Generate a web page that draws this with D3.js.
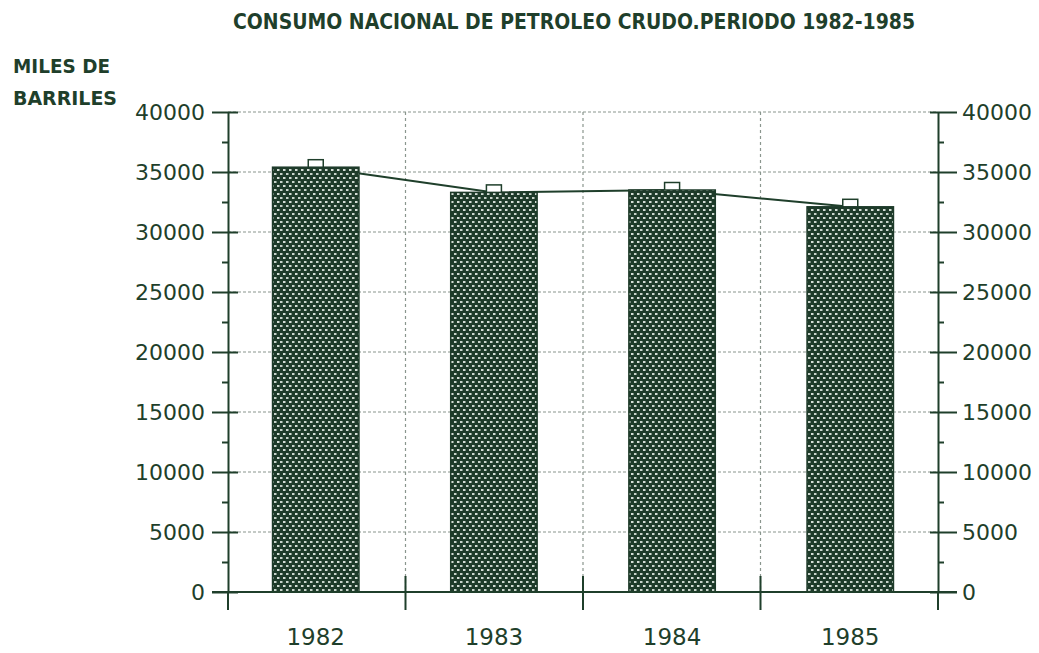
<!DOCTYPE html>
<html><head><meta charset="utf-8">
<script src="https://cdn.jsdelivr.net/npm/d3@7"></script>
<style>body{margin:0;background:#fff}</style>
</head><body>
<svg id="c" width="1039" height="653"></svg>
<script>
const categories = ["1982","1983","1984","1985"];
const barValues = [35400, 33300, 33500, 32100];
const lineValues = [35400, 33300, 33500, 32100];
const yTicks = [0,5000,10000,15000,20000,25000,30000,35000,40000];
const yMinorTicks = [2500,7500,12500,17500,22500,27500,32500,37500];
const title = "CONSUMO NACIONAL DE PETROLEO CRUDO.PERIODO 1982-1985";
const yLabel = ["MILES DE","BARRILES"];

const ink = "#1f3f2b";
const svg = d3.select("#c");
const L = 228, R = 938, T = 112, B = 592;

const x = d3.scaleBand().domain(categories).range([L, R]).paddingInner(0.515).paddingOuter(0.25);
const y = d3.scaleLinear().domain([0, 40000]).range([B, T]);

const defs = svg.append("defs");
const pat = defs.append("pattern").attr("id","dots").attr("patternUnits","userSpaceOnUse")
  .attr("width",6).attr("height",8);
pat.append("rect").attr("width",6).attr("height",8).attr("fill","#1e3b2a");
pat.append("rect").attr("x",1).attr("y",1).attr("width",2.5).attr("height",2).attr("fill","#d4ddd6");
pat.append("rect").attr("x",4).attr("y",5).attr("width",2.5).attr("height",2).attr("fill","#c8d3cb");
pat.append("rect").attr("x",-2).attr("y",5).attr("width",2.5).attr("height",2).attr("fill","#c8d3cb");

// grid
const catBounds = d3.range(1, categories.length).map(i => L + (R - L) * i / categories.length);
svg.append("g").selectAll("line").data(yTicks.filter(d => d > 0)).join("line")
  .attr("x1", L).attr("x2", R).attr("y1", d => y(d)).attr("y2", d => y(d))
  .attr("stroke", "#8a968e").attr("stroke-width", 1.2).attr("stroke-dasharray", "3,2");
svg.append("g").selectAll("line").data(catBounds).join("line")
  .attr("x1", d => d).attr("x2", d => d).attr("y1", T).attr("y2", B)
  .attr("stroke", "#8a968e").attr("stroke-width", 1.2).attr("stroke-dasharray", "3,3");

// line + markers
const cx = c => x(c) + x.bandwidth()/2;
svg.append("path").datum(lineValues)
  .attr("d", d3.line().x((d,i) => cx(categories[i])).y(d => y(d)))
  .attr("fill","none").attr("stroke", ink).attr("stroke-width", 2);
svg.append("g").selectAll("rect").data(lineValues).join("rect")
  .attr("x", (d,i) => cx(categories[i]) - 7.5).attr("y", d => y(d) - 7.5)
  .attr("width", 15).attr("height", 15)
  .attr("fill", "#fff").attr("stroke", ink).attr("stroke-width", 1.5);

// bars
svg.append("g").selectAll("rect").data(barValues).join("rect")
  .attr("x", (d,i) => x(categories[i])).attr("y", d => y(d))
  .attr("width", x.bandwidth()).attr("height", d => B - y(d))
  .attr("fill", "url(#dots)").attr("stroke", "#1e3b2a").attr("stroke-width", 1.5);

// axes
const axisStyle = g => {
  g.select(".domain").attr("stroke", ink).attr("stroke-width", 2);
  g.selectAll(".tick line").attr("stroke", ink).attr("stroke-width", 2);
  g.selectAll("text").attr("fill", ink).attr("font-family", "DejaVu Sans")
    .attr("font-size", 22);
};
const yl = svg.append("g").attr("transform", `translate(${L},0)`)
  .call(d3.axisLeft(y).tickValues(yTicks).tickSize(16).tickPadding(7).tickSizeOuter(0).tickFormat(d3.format("d")));
yl.selectAll(".tick line").attr("x2", -16).attr("x1", 10);
axisStyle(yl);
const ylm = svg.append("g").attr("transform", `translate(${L},0)`)
  .call(d3.axisLeft(y).tickValues(yMinorTicks).tickSize(6).tickFormat(""));
ylm.select(".domain").remove();
ylm.selectAll(".tick line").attr("stroke", ink).attr("stroke-width", 2);

const yr = svg.append("g").attr("transform", `translate(${R},0)`)
  .call(d3.axisRight(y).tickValues(yTicks).tickSize(19).tickPadding(5).tickSizeOuter(0).tickFormat(d3.format("d")));
yr.selectAll(".tick line").attr("x1", -8);
axisStyle(yr);
const yrm = svg.append("g").attr("transform", `translate(${R},0)`)
  .call(d3.axisRight(y).tickValues(yMinorTicks).tickSize(6).tickFormat(""));
yrm.select(".domain").remove();
yrm.selectAll(".tick line").attr("stroke", ink).attr("stroke-width", 2);

// bottom axis
svg.append("line").attr("x1", L - 16).attr("x2", R + 19).attr("y1", B).attr("y2", B)
  .attr("stroke", ink).attr("stroke-width", 2);
svg.append("g").selectAll("line").data([L, ...catBounds, R]).join("line")
  .attr("x1", d => d).attr("x2", d => d).attr("y1", (d,i) => (i===0||i===categories.length) ? B : B - 16).attr("y2", B + 18)
  .attr("stroke", ink).attr("stroke-width", 2);
svg.append("g").selectAll("text").data(categories).join("text")
  .attr("x", d => cx(d)).attr("y", 645).attr("text-anchor", "middle")
  .attr("fill", ink).attr("font-family", "DejaVu Sans").attr("font-size", 23)
  .text(d => d);

// title
svg.append("text").attr("x", 574).attr("y", 29).attr("text-anchor", "middle")
  .attr("fill", ink).attr("font-family", "DejaVu Sans Condensed").attr("font-weight", "bold").attr("font-size", 21)
  .attr("textLength", 682).attr("lengthAdjust", "spacingAndGlyphs").text(title);
svg.append("g").selectAll("text").data(yLabel).join("text")
  .attr("x", 13).attr("y", (d,i) => 73 + i*32)
  .attr("fill", ink).attr("font-family", "DejaVu Sans Condensed").attr("font-weight", "bold").attr("font-size", 20)
  .attr("textLength", (d,i) => i === 0 ? 97 : 104).attr("lengthAdjust", "spacingAndGlyphs")
  .text(d => d);
</script>
</body></html>
